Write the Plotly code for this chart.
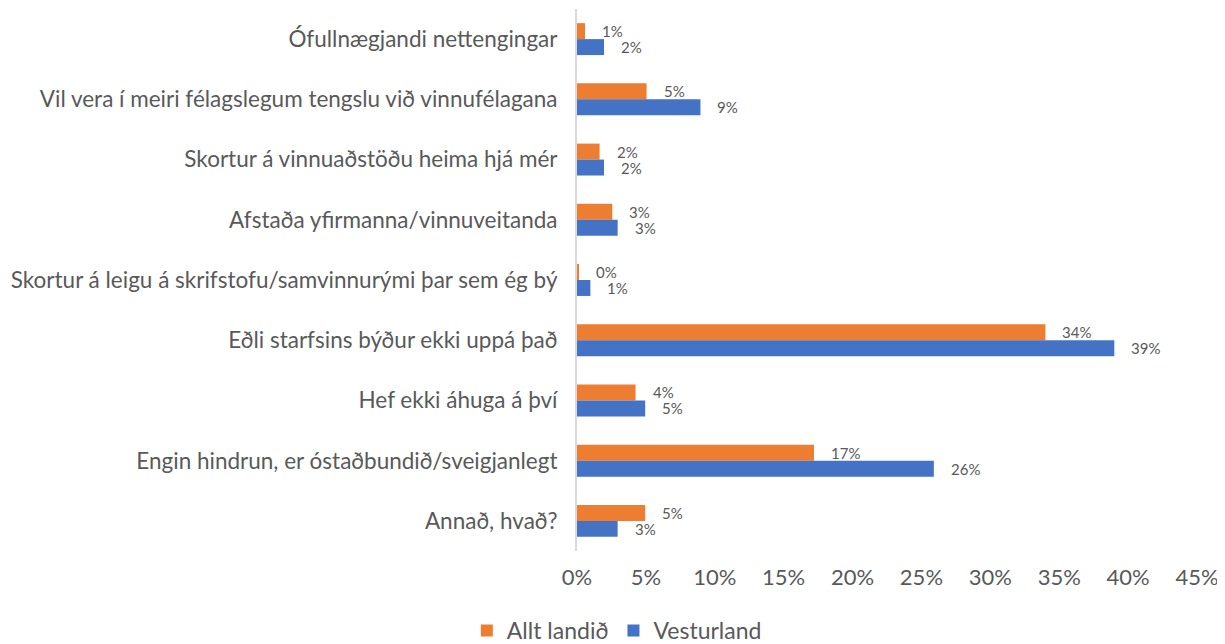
import plotly.graph_objects as go

categories = [
    "Ófullnægjandi nettengingar",
    "Vil vera í meiri félagslegum tengslu við vinnufélagana",
    "Skortur á vinnuaðstöðu heima hjá mér",
    "Afstaða yfirmanna/vinnuveitanda",
    "Skortur á leigu á skrifstofu/samvinnurými þar sem ég bý",
    "Eðli starfsins býður ekki uppá það",
    "Hef ekki áhuga á því",
    "Engin hindrun, er óstaðbundið/sveigjanlegt",
    "Annað, hvað?",
]
allt_landid = [0.58, 5.05, 1.64, 2.56, 0.14, 34.0, 4.25, 17.2, 4.95]
vesturland = [1.96, 8.96, 1.96, 2.95, 0.97, 39.0, 4.95, 25.9, 2.95]
series_names = ["Allt landið", "Vesturland"]
tick_vals = [0, 5, 10, 15, 20, 25, 30, 35, 40, 45]
tick_text = [f"{v}%" for v in tick_vals]

ORANGE = "#ED7D31"
BLUE = "#4472C4"
TXT = "#595959"
FONT = "Lato"

fig = go.Figure()
fig.add_trace(go.Bar(y=categories, x=allt_landid, orientation="h", name=series_names[0],
                     marker=dict(color=ORANGE, line=dict(width=0))))
fig.add_trace(go.Bar(y=categories, x=vesturland, orientation="h", name=series_names[1],
                     marker=dict(color=BLUE, line=dict(width=0))))

bargap = 0.47
half = (1 - bargap) / 4
for i, (a, b) in enumerate(zip(allt_landid, vesturland)):
    for val, off in ((a, -half), (b, half)):
        fig.add_annotation(x=val, y=i + off, xref="x", yref="y",
                           text=f"{round(val):.0f}%", showarrow=False,
                           xanchor="left", yanchor="middle", xshift=15,
                           font=dict(family=FONT, size=15, color=TXT))

fig.update_layout(
    width=1225, height=644,
    margin=dict(l=569, r=36, t=1, b=101, autoexpand=False),
    paper_bgcolor="white", plot_bgcolor="white",
    barmode="group", bargap=bargap, bargroupgap=0,
    font=dict(family=FONT, color=TXT, size=22),
    showlegend=True,
    legend=dict(orientation="h", xref="container", yref="container",
                x=0.497, xanchor="center", y=-0.003, yanchor="bottom",
                font=dict(family=FONT, size=23, color=TXT),
                itemwidth=30, traceorder="normal"),
)
fig.update_xaxes(range=[0, 45], tickvals=tick_vals, ticktext=tick_text,
                 showgrid=False, zeroline=False, showline=False, automargin=False,
                 ticks="", ticklabelstandoff=11,
                 tickfont=dict(family=FONT, size=22, color=TXT))
fig.update_yaxes(autorange="reversed", showgrid=False, zeroline=False,
                 showline=True, linecolor="#D9D9D9", linewidth=2, automargin=False,
                 ticks="", ticklabelstandoff=13,
                 tickfont=dict(family=FONT, size=22.5, color=TXT))

fig.write_html("out.html")
